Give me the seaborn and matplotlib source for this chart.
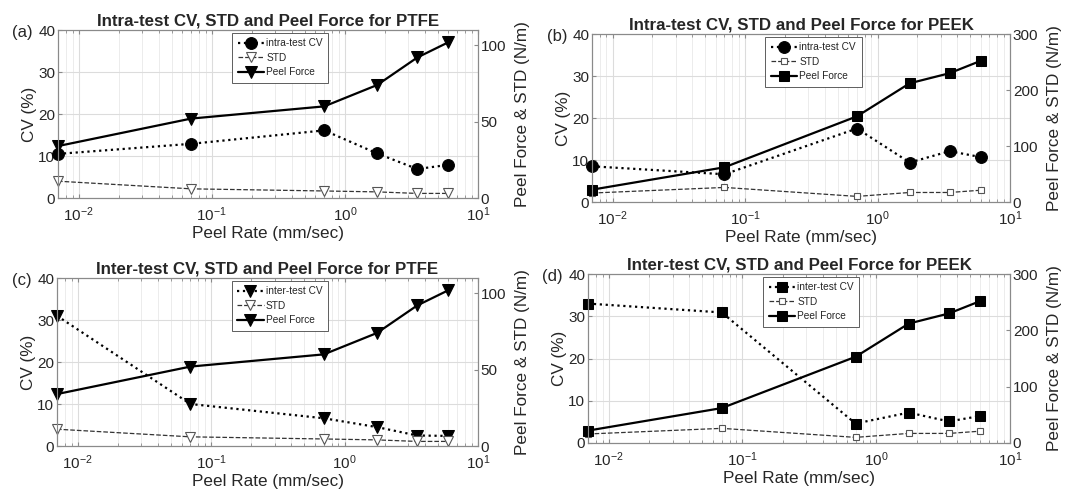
import matplotlib
matplotlib.use("Agg")
import matplotlib.pyplot as plt
import seaborn as sns
import numpy as np
from matplotlib.ticker import LogLocator, NullFormatter

# peel rates (mm/sec)
rates = [0.007, 0.07, 0.7, 1.75, 3.5, 6.0]

# PTFE
ptfe_intra_cv = [10.5, 12.9, 16.1, 10.6, 6.9, 7.9]
ptfe_inter_cv = [31.0, 10.0, 6.6, 4.5, 2.5, 2.4]
ptfe_std = [11.0, 6.0, 4.6, 4.0, 3.0, 3.0]
ptfe_peel = [34.0, 52.0, 60.0, 74.0, 92.0, 102.0]

# PEEK
peek_intra_cv = [8.5, 6.6, 17.5, 9.4, 12.1, 10.7]
peek_inter_cv = [33.0, 30.9, 4.6, 7.2, 5.1, 6.4]
peek_std = [16.0, 26.0, 10.0, 17.0, 17.0, 21.0]
peek_peel = [22.0, 62.0, 153.0, 212.0, 230.0, 252.0]

titles = [
    "Intra-test CV, STD and Peel Force for PTFE",
    "Intra-test CV, STD and Peel Force for PEEK",
    "Inter-test CV, STD and Peel Force for PTFE",
    "Inter-test CV, STD and Peel Force for PEEK",
]
panel_tags = ["(a)", "(b)", "(c)", "(d)"]

sns.set_style("ticks")
plt.rcParams["font.family"] = ["Liberation Sans", "DejaVu Sans"]
plt.rcParams["mathtext.fontset"] = "custom"
plt.rcParams["mathtext.rm"] = "Liberation Sans"
plt.rcParams["xtick.direction"] = "in"
plt.rcParams["ytick.direction"] = "in"

W, H = 1065, 496
fig = plt.figure(figsize=(W / 100, H / 100), dpi=100)

# axes boxes in pixels: left, top, right, bottom
boxes = [(58, 30, 478, 198), (592, 34, 1010, 202),
         (57, 278, 478, 446), (588, 274, 1010, 443)]

panels = [
    (ptfe_intra_cv, ptfe_std, ptfe_peel, "intra-test CV", "o", "v", 110, [0, 50, 100]),
    (peek_intra_cv, peek_std, peek_peel, "intra-test CV", "o", "s", 300, [0, 100, 200, 300]),
    (ptfe_inter_cv, ptfe_std, ptfe_peel, "inter-test CV", "v", "v", 110, [0, 50, 100]),
    (peek_inter_cv, peek_std, peek_peel, "inter-test CV", "s", "s", 300, [0, 100, 200, 300]),
]

spine_col = "#8a8a8a"
grid_major = "#dcdcdc"
grid_minor = "#ececec"
txt = "#262626"

for i, (box, (cv, std, peel, cv_lab, cv_mk, pf_mk, ymax2, yt2)) in enumerate(zip(boxes, panels)):
    l, t, r, b = box
    ax = fig.add_axes([l / W, 1 - b / H, (r - l) / W, (b - t) / H])
    ax.set_xscale("log")
    ax2 = ax.twinx()

    big = {"o": 8.5, "v": 9, "s": 7}[cv_mk]
    sns.lineplot(x=rates, y=cv, ax=ax, color="black", linestyle=":", linewidth=1.6,
                 marker=cv_mk, markersize=big, markeredgecolor="black",
                 markerfacecolor="black", label=cv_lab, legend=False, clip_on=False)

    small = 6.5 if pf_mk == "v" else 5
    sns.lineplot(x=rates, y=std, ax=ax2, color="#333333", linestyle="--", linewidth=0.9,
                 marker=pf_mk, markersize=small, markeredgecolor="#555555",
                 markerfacecolor="white", markeredgewidth=0.8, label="STD",
                 legend=False, clip_on=False)

    pf_size = 9 if pf_mk == "v" else 7
    sns.lineplot(x=rates, y=peel, ax=ax2, color="black", linestyle="-", linewidth=1.6,
                 marker=pf_mk, markersize=pf_size, markeredgecolor="black",
                 markerfacecolor="black", label="Peel Force", legend=False, clip_on=False)

    ax.set_xlim(0.007, 10)
    ax.set_ylim(0, 40)
    ax.set_yticks([0, 10, 20, 30, 40])
    ax2.set_ylim(0, ymax2)
    ax2.set_yticks(yt2)

    ax.xaxis.set_major_locator(LogLocator(base=10, numticks=10))
    ax.xaxis.set_minor_locator(LogLocator(base=10, subs=np.arange(2, 10), numticks=20))
    ax.xaxis.set_minor_formatter(NullFormatter())

    ax.grid(True, which="major", axis="both", color=grid_major, linewidth=0.8)
    ax.grid(True, which="minor", axis="x", color=grid_minor, linewidth=0.7)
    ax.set_axisbelow(True)

    for a in (ax, ax2):
        for s in a.spines.values():
            s.set_color(spine_col)
            s.set_linewidth(0.8)
    ax.tick_params(axis="both", which="both", labelsize=11, colors=spine_col,
                   labelcolor=txt, top=True, length=3, pad=2)
    ax.tick_params(axis="x", which="both", pad=5)
    ax.tick_params(axis="x", which="minor", length=2)
    ax2.tick_params(axis="y", labelsize=11, colors=spine_col, labelcolor=txt,
                    length=3, pad=2)

    ax.set_xlabel("Peel Rate (mm/sec)", fontsize=12.3, color=txt, labelpad=2)
    ax.set_ylabel("CV (%)", fontsize=12.3, color=txt, labelpad=1)
    ax2.set_ylabel("Peel Force & STD (N/m)", fontsize=12.3, color=txt, labelpad=6)
    ax.set_title(titles[i], fontsize=12.2, fontweight="bold", pad=3)

    h1, l1 = ax.get_legend_handles_labels()
    h2, l2 = ax2.get_legend_handles_labels()
    leg = ax2.legend(h1 + h2, l1 + l2, loc="upper left", bbox_to_anchor=(0.415, 0.985),
                     fontsize=7.3, frameon=True, fancybox=False, edgecolor="#444444",
                     framealpha=1, borderpad=0.55, handlelength=2.6, handletextpad=0.2,
                     labelspacing=0.45, borderaxespad=0)
    leg.get_frame().set_linewidth(0.6)

    fig.text((l - 25) / W, 1 - (t + 2) / H, panel_tags[i], fontsize=12,
             ha="right", va="center", color=txt)

fig.savefig("out.png", dpi=100)
